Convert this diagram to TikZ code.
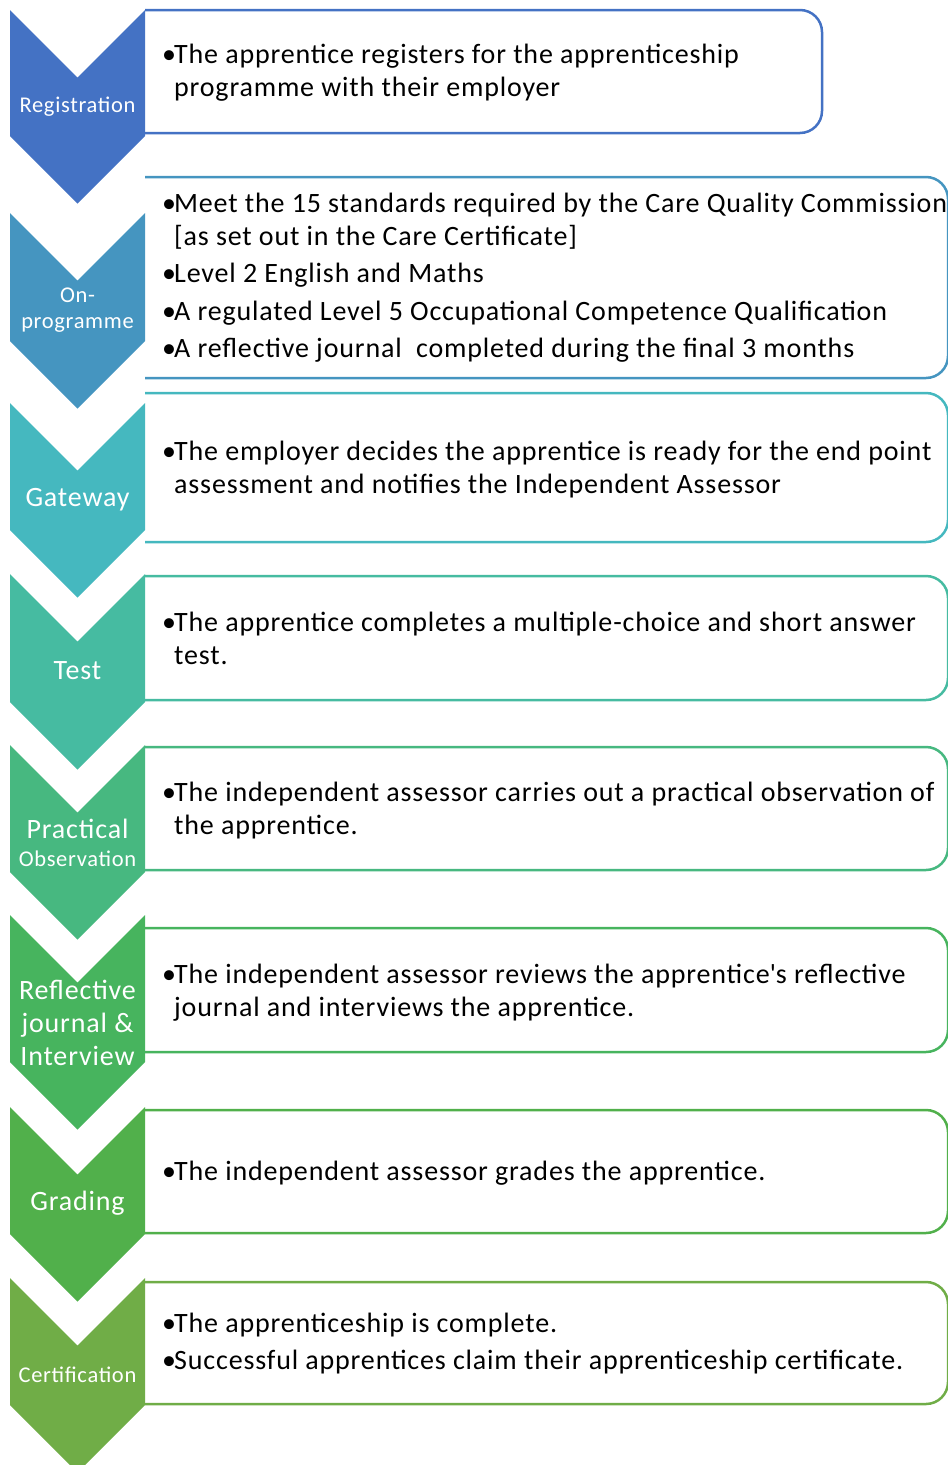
\documentclass[tikz,border=0pt]{standalone}
\usepackage{fontspec}
\setmainfont{Carlito}[LetterSpace=3]
\usetikzlibrary{positioning}

\definecolor{colA}{HTML}{4472C4}
\definecolor{colB}{HTML}{4595C0}
\definecolor{colC}{HTML}{45B8BF}
\definecolor{colD}{HTML}{46BBA1}
\definecolor{colE}{HTML}{47B880}
\definecolor{colF}{HTML}{47B45E}
\definecolor{colG}{HTML}{51B04B}
\definecolor{colH}{HTML}{70AD47}

\newcommand{\bul}{\makebox[12pt][l]{•}}

\begin{document}
\begin{tikzpicture}
[x=1pt,y=-1pt,
  boxDecorate/.style={line width=2.5pt,rounded corners=22pt,fill=white},%
  labelDecorate/.style={text=white,align=center,inner sep=0pt,font=\fontsize{28}{33}\selectfont},%
  smallLabel/.style={labelDecorate,font=\fontsize{22.5}{26}\selectfont},%
  textDecorate/.style={anchor=base west,inner sep=0pt,font=\fontsize{28}{33}\selectfont}]
\useasboundingbox (0,0) rectangle (948,1465);
%% text boxes, open on the left
\foreach \n/\ya/\yb/\xr/\col in {
  1/10/133/822/colA, 2/177/378/948/colB, 3/393/542/948/colC,
  4/576/700/948/colD, 5/747/870/948/colE, 6/928/1052/948/colF,
  7/1110/1233/948/colG, 8/1282/1404/948/colH}
{
  \draw[boxDecorate,draw=\col] (145,\ya) -- (\xr,\ya) -- (\xr,\yb) -- (145,\yb);
}
%% chevrons: top / straight side length
\foreach \n/\ya/\h/\col in {
  1/10/126/colA, 2/213/128/colB, 3/403/127/colC, 4/574/128/colD,
  5/745/127/colE, 6/915/147/colF, 7/1107/127/colG, 8/1278/127/colH}
{
  \fill[\col] (10,\ya) -- (77.5,\ya+67.5) -- (145,\ya) -- (145,\ya+\h)
    -- (77.5,\ya+\h+67.5) -- (10,\ya+\h) -- cycle;
}
%% chevron labels
\node[smallLabel] (lab1) at (77.5,107) {Registration};
\node[smallLabel] (lab2) at (77.5,310) {On-\\programme};
\node[labelDecorate] (lab3) at (77.5,500) {Gateway};
\node[labelDecorate] (lab4) at (77.5,671) {Test};
\node[labelDecorate] (lab5) at (77.5,843) {Practical\\[-5pt]{\fontsize{22.5}{26}\selectfont Observation}};
\node[labelDecorate] (lab6) at (77.5,1023) {Reflective\\journal \&\\Interview};
\node[labelDecorate] (lab7) at (77.5,1203) {Grading};
\node[smallLabel] (lab8) at (77.5,1375) {Certification};
%% bullet texts
\node[textDecorate] (txt1) at (162,63) {\begin{tabular}[t]{@{}l@{}l@{}}
  \bul & The apprentice registers for the apprenticeship\\
  & programme with their employer
\end{tabular}};
\node[textDecorate] (txt2) at (162,212) {\begin{tabular}[t]{@{}l@{}l@{}}
  \bul & Meet the 15 standards required by the Care Quality Commission\\
  & [as set out in the Care Certificate]\\[4.5pt]
  \bul & Level 2 English and Maths\\[4.5pt]
  \bul & A regulated Level 5 Occupational Competence Qualification\\[4.5pt]
  \bul & A reflective journal\ \ completed during the final 3 months
\end{tabular}};
\node[textDecorate] (txt3) at (162,460) {\begin{tabular}[t]{@{}l@{}l@{}}
  \bul & The employer decides the apprentice is ready for the end point\\
  & assessment and notifies the Independent Assessor
\end{tabular}};
\node[textDecorate] (txt4) at (162,631) {\begin{tabular}[t]{@{}l@{}l@{}}
  \bul & The apprentice completes a multiple-choice and short answer\\
  & test.
\end{tabular}};
\node[textDecorate] (txt5) at (162,801) {\begin{tabular}[t]{@{}l@{}l@{}}
  \bul & The independent assessor carries out a practical observation of\\
  & the apprentice.
\end{tabular}};
\node[textDecorate] (txt6) at (162,983) {\begin{tabular}[t]{@{}l@{}l@{}}
  \bul & The independent assessor reviews the apprentice\textquotesingle s reflective\\
  & journal and interviews the apprentice.
\end{tabular}};
\node[textDecorate] (txt7) at (162,1180) {\begin{tabular}[t]{@{}l@{}l@{}}
  \bul & The independent assessor grades the apprentice.
\end{tabular}};
\node[textDecorate] (txt8) at (162,1332) {\begin{tabular}[t]{@{}l@{}l@{}}
  \bul & The apprenticeship is complete.\\[4.5pt]
  \bul & Successful apprentices claim their apprenticeship certificate.
\end{tabular}};
\end{tikzpicture}
\end{document}
